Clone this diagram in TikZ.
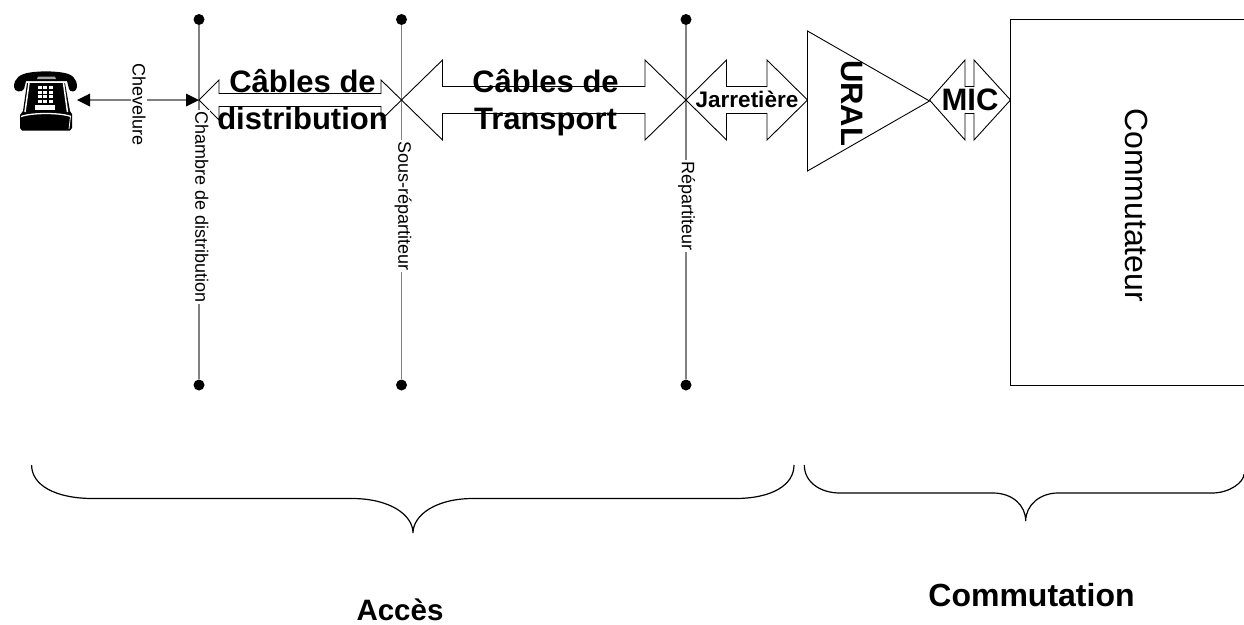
\documentclass[tikz,border=0pt]{standalone}
\usepackage{fontspec}
\setmainfont{Liberation Sans}
\usetikzlibrary{calc,arrows.meta}
\tikzset{
  cable/.style={draw=black,line width=0.9pt,line join=miter},
  pole/.style={draw=black!50,line width=1.5pt},
  dotnode/.style={circle,fill=black,inner sep=0pt,minimum size=11pt},
  vlabel/.style={anchor=base west,rotate=-90,inner sep=1.5pt,fill=white,font=\fontsize{18}{18}\selectfont},
  bigbold/.style={inner sep=0pt,anchor=base,font=\fontsize{31}{37}\bfseries\selectfont,align=center},
  bracep/.style={draw=black,line width=1.2pt},
  box/.style={draw=black,line width=1pt}
}
\newcommand{\blockarrow}[6]{%
  \draw[cable] (#1) -- ($(#1)+(#3,-#5)$) -- ($(#1)+(#3,-#6)$) -- ($(#2)+(-#4,-#6)$) -- ($(#2)+(-#4,-#5)$) -- (#2)
   -- ($(#2)+(-#4,#5)$) -- ($(#2)+(-#4,#6)$) -- ($(#1)+(#3,#6)$) -- ($(#1)+(#3,#5)$) -- cycle;}
\begin{document}
\begin{tikzpicture}[x=1pt,y=-1pt]
\useasboundingbox (0,0) rectangle (1244,624);
% tips
\coordinate (phone) at (77,100);
\coordinate (t1) at (199,100);
\coordinate (t2) at (401.5,100);
\coordinate (t3) at (686,100);
\coordinate (t4) at (807.5,100);
\coordinate (t5) at (929.5,100);
\coordinate (t6) at (1010.5,100);
% poles
\node[dotnode] (a1) at (199,19.5) {};
\node[dotnode] (a2) at (199,385) {};
\node[dotnode] (b1) at (401.5,19.5) {};
\node[dotnode] (b2) at (401.5,385) {};
\node[dotnode] (c1) at (686,19.5) {};
\node[dotnode] (c2) at (686,385) {};
\draw[pole] (a1) -- (a2);
\draw[pole] (b1) -- (b2);
\draw[pole] (c1) -- (c2);
% block arrows
\blockarrow{t1}{t2}{20}{20.5}{20}{6.5}
\blockarrow{t2}{t3}{41}{41}{40}{13.5}
\blockarrow{t3}{t4}{40.5}{40.5}{40}{13.5}
\blockarrow{t5}{t6}{35.5}{36.5}{40}{13.5}
% triangle
\draw[cable] (807.5,31) -- (929.5,101) -- (807.5,171) -- cycle;
% box
\draw[box] (1244,19.5) -- (1010.5,19.5) -- (1010.5,385) -- (1244,385);
% chevelure
\draw[draw=black!50,line width=1.3pt] (90,100) -- (186,100);
\fill (phone) -- (90,93.5) -- (90,106.5) -- cycle;
\fill (t1) -- (186,93.5) -- (186,106.5) -- cycle;
\node[vlabel] (chev) at (132.6,62) {Chevelure};
% labels
\node[vlabel] (l1) at (195.3,110) {Chambre de distribution};
\node[vlabel] (l2) at (398.3,140.2) {Sous-répartiteur};
\node[vlabel] (l3) at (681.9,159.5) {Répartiteur};
\node[bigbold] (cd) at (302.5,129) {Câbles de\\distribution};
\node[bigbold] (ct) at (545.5,129) {Câbles de\\Transport};
\node[inner sep=0pt,anchor=base,font=\fontsize{22.5}{24}\bfseries\selectfont] (j) at (747,107.5) {Jarretière};
\node[inner sep=0pt,anchor=base west,rotate=-90,font=\fontsize{31}{31}\bfseries\selectfont] (u) at (841.5,60) {URAL};
\node[inner sep=0pt,anchor=base,font=\fontsize{31}{31}\bfseries\selectfont] (m) at (970,110.7) {MIC};
\node[inner sep=0pt,anchor=base west,rotate=-90,font=\fontsize{32}{32}\selectfont] (com) at (1125.4,108) {Commutateur};
% braces
\draw[bracep] (31.6,465) .. controls (31.6,485) and (55,498.5) .. (93,498.5) -- (352,498.5)
  .. controls (390,498.5) and (413,515) .. (413,533) .. controls (413,515) and (436,498.5) .. (473,498.5)
  -- (735,498.5) .. controls (772,498.5) and (794,485) .. (794,465);
\draw[bracep] (804.3,465) .. controls (804.3,482) and (820,493) .. (840,493) -- (993,493)
  .. controls (1012,493) and (1025.7,505) .. (1025.7,521) .. controls (1025.7,505) and (1040,493) .. (1058,493)
  -- (1212,493) .. controls (1230,493) and (1244,482) .. (1244,474);
\node[inner sep=0pt,anchor=base,font=\fontsize{29.5}{30}\bfseries\selectfont] (acc) at (400,620) {Accès};
\node[inner sep=0pt,anchor=base,font=\fontsize{32}{32}\bfseries\selectfont] (comm) at (1031.5,606) {Commutation};
% telephone
\fill[black] (14,87) .. controls (14,78) and (20,74) .. (30,72.5) .. controls (40,71) and (52,71) .. (62,72.5)
  .. controls (72,74) and (77,78) .. (77,87) .. controls (77,92) and (70,93) .. (69,89) -- (67,81)
  -- (26,81) -- (24,89) .. controls (22,93) and (14,92) .. (14,87) -- cycle;
\fill[black!35] (38,76.5) -- (55,76.5) -- (56,79) -- (37,79) -- cycle;
\fill[black] (27,83) -- (65,83) -- (70,111) -- (72,114) -- (72,128) -- (70,130.5) -- (22,130.5) -- (20,128) -- (20,115) -- (23,111) -- cycle;
\draw[white,line width=1.5pt] (25,112) -- (29,83);
\draw[white,line width=1.5pt] (67.5,112) -- (63.5,83);
\draw[white,line width=1.3pt] (21,116.5) .. controls (32,112.5) and (60,112.5) .. (71,116.5);
\draw[white,line width=0.8pt] (70.5,116) -- (69,129);
\foreach \kx in {37.5,43,48.5}{\foreach \ky in {86,90.5,95,99.5}{
  \fill[white] (\kx,\ky) rectangle ++(4,3);}}
\fill[white] (35,105) rectangle (55,109.5);
\end{tikzpicture}
\end{document}
